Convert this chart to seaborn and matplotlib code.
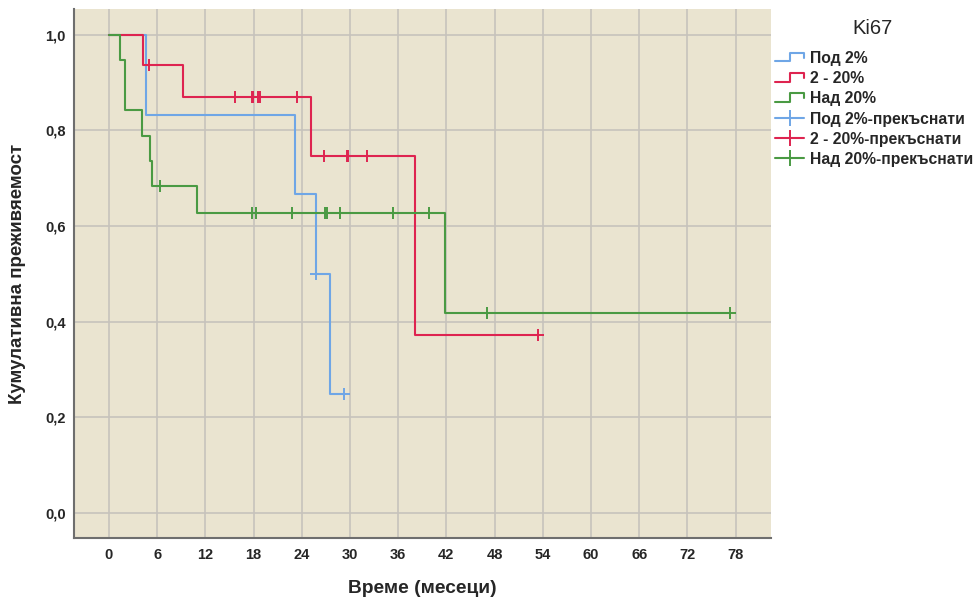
import numpy as np
import pandas as pd
import matplotlib
matplotlib.use("Agg")
import matplotlib.pyplot as plt
import seaborn as sns
from matplotlib.lines import Line2D
from matplotlib.legend_handler import HandlerBase

# ---------------- data (months) ----------------
groups = ["Под 2%", "2 - 20%", "Над 20%"]
censor_labels = ["Под 2%-прекъснати", "2 - 20%-прекъснати", "Над 20%-прекъснати"]

events_pod2 = [4.6, 23.1, 25.8, 27.5]
censored_pod2 = [25.8, 29.3]

events_2_20 = [4.3, 9.25, 25.1, 38.1]
censored_2_20 = [5.0, 15.7, 17.8, 17.9, 18.6, 18.8, 23.4, 26.8, 29.6, 29.8, 32.1, 53.4]

events_nad20 = [1.4, 2.0, 2.0, 4.1, 5.15, 5.4, 10.9, 41.8]
censored_nad20 = [6.4, 17.8, 18.3, 22.8, 26.9, 27.1, 28.8, 35.3, 39.8, 47.0, 77.3]

x_ticks = [0, 6, 12, 18, 24, 30, 36, 42, 48, 54, 60, 66, 72, 78]
y_ticks = [0.0, 0.2, 0.4, 0.6, 0.8, 1.0]
y_tick_labels = ["0,0", "0,2", "0,4", "0,6", "0,8", "1,0"]

colors = {"Под 2%": "#6FA6E6", "2 - 20%": "#DE2450", "Над 20%": "#4A9A43"}


def kaplan_meier(events, censored):
    times = sorted(set(events) | set(censored))
    n = len(events) + len(censored)
    s = 1.0
    xs, ys, cx, cy = [0.0], [1.0], [], []
    for t in times:
        d = events.count(t)
        c = censored.count(t)
        if d:
            s *= (1 - d / n)
            xs.append(t)
            ys.append(s)
        cx += [t] * c
        cy += [s] * c
        n -= d + c
    xs.append(max(times))
    ys.append(s)
    return xs, ys, cx, cy


curve_rows, cens_rows = [], []
for g, ev, ce in zip(groups,
                     [events_pod2, events_2_20, events_nad20],
                     [censored_pod2, censored_2_20, censored_nad20]):
    xs, ys, cx, cy = kaplan_meier(ev, ce)
    curve_rows += [{"group": g, "t": a, "s": b} for a, b in zip(xs, ys)]
    cens_rows += [{"group": g, "t": a, "s": b} for a, b in zip(cx, cy)]
curves = pd.DataFrame(curve_rows)
cens = pd.DataFrame(cens_rows)

# ---------------- figure ----------------
sns.set_style("white")
plt.rcParams["font.family"] = ["Liberation Sans", "DejaVu Sans"]

fig = plt.figure(figsize=(9.73, 6.03), dpi=100)
ax = fig.add_axes([74 / 973, (603 - 538) / 603, (771 - 74) / 973, (538 - 9) / 603])
ax.set_facecolor("#EAE4D0")

sns.lineplot(data=curves, x="t", y="s", hue="group", hue_order=groups, palette=colors,
             units="group", estimator=None, sort=False, drawstyle="steps-post",
             linewidth=1.5, legend=False, ax=ax)
sns.scatterplot(data=cens, x="t", y="s", hue="group", hue_order=groups, palette=colors,
                marker="+", s=75, linewidth=1.4, legend=False, ax=ax, zorder=3)

ax.set_xlim(-4.35, 82.4)
ax.set_ylim(-0.052, 1.054)
ax.set_xticks(x_ticks)
ax.set_xticklabels([str(v) for v in x_ticks], fontsize=10.5, fontweight="bold")
ax.set_yticks(y_ticks)
ax.set_yticklabels(y_tick_labels, fontsize=10.5, fontweight="bold")
ax.tick_params(axis="both", length=0)
ax.tick_params(axis="x", pad=7)
ax.tick_params(axis="y", pad=6)
ax.grid(True, color="#C6C3BC", linewidth=1.2)
ax.set_axisbelow(True)
for side in ["top", "right"]:
    ax.spines[side].set_visible(False)
for side in ["left", "bottom"]:
    ax.spines[side].set_color("#6E6E6E")
    ax.spines[side].set_linewidth(1.5)

ax.set_xlabel("Време (месеци)", fontsize=13.8, fontweight="bold", labelpad=13)
ax.set_ylabel("Кумулативна преживяемост", fontsize=13.5, fontweight="bold", labelpad=14)


class StepHandler(HandlerBase):
    def create_artists(self, legend, orig_handle, xdescent, ydescent, width, height, fontsize, trans):
        x0, y0 = -xdescent, -ydescent
        xs = [x0, x0 + 0.5 * width, x0 + 0.5 * width, x0 + width, x0 + width]
        ys = [y0 + 0.15 * height, y0 + 0.15 * height, y0 + 0.95 * height, y0 + 0.95 * height, y0 + 0.45 * height]
        line = Line2D(xs, ys, color=orig_handle.get_color(), lw=orig_handle.get_linewidth())
        line.set_transform(trans)
        return [line]


step_handles = [Line2D([], [], color=colors[g], lw=1.5) for g in groups]
cens_handles = [Line2D([], [], color=colors[g], lw=1.5, marker="+", ms=11, mew=1.4) for g in groups]
handler_map = {h: StepHandler() for h in step_handles}
leg = fig.legend(step_handles + cens_handles, groups + censor_labels, handler_map=handler_map,
                 loc="upper left", bbox_to_anchor=(775 / 973, 1 - 51 / 603), frameon=False,
                 prop={"size": 11.3, "weight": "bold"},
                 handlelength=1.85, handletextpad=0.35, labelspacing=0.33, numpoints=1,
                 borderpad=0, borderaxespad=0)
fig.text(872 / 973, 1 - 29 / 603, "Ki67", ha="center", va="center", fontsize=14.5)

fig.savefig("out.png", dpi=100)
